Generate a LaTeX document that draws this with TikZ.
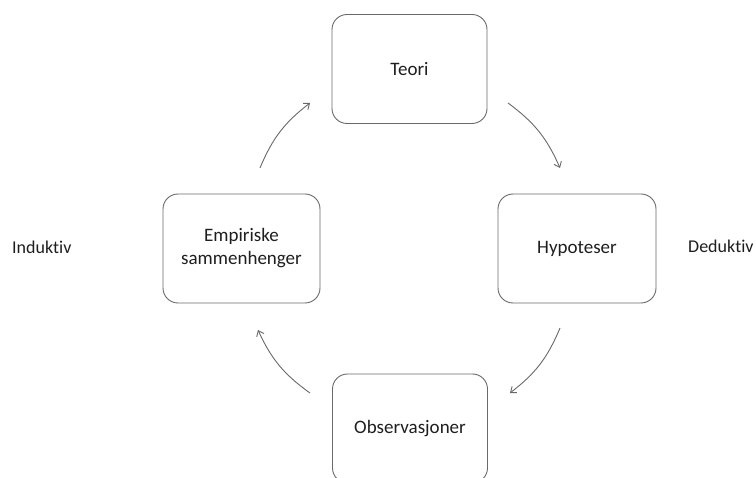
\documentclass[tikz,border=0pt]{standalone}
\usepackage{fontspec}
\setmainfont[Ligatures=NoCommon]{Carlito}
\usetikzlibrary{arrows.meta}
\definecolor{boxline}{RGB}{105,105,105}
\definecolor{txt}{RGB}{30,30,30}
\begin{document}
\begin{tikzpicture}[x=1pt,y=-1pt,
  box/.style={draw=boxline,line width=0.9pt,rounded corners=15pt,minimum width=155pt,minimum height=109pt,align=center,text=txt,font=\fontsize{19}{23}\selectfont,inner sep=0pt},
  lbl/.style={text=txt,font=\fontsize{18}{21}\selectfont,inner sep=0pt},
  arr/.style={draw=boxline,line width=0.9pt,-{Straight Barb[length=5pt,width=8pt]},bend left=15}]
\useasboundingbox (0,0) rectangle (756,478);
\clip (0,0) rectangle (756,478);
\fill[white] (0,0) rectangle (756,478);
\node[box] (teori) at (409.5,69) {Teori};
\node[box,minimum width=158pt] (hyp) at (577,248.5) {Hypoteser};
\node[box] (obs) at (410,428.5) {Observasjoner};
\node[box,minimum width=157pt] (emp) at (241.5,248.5) {Empiriske\\sammenhenger};
\node[lbl,anchor=west] (ind) at (12,247) {Induktiv};
\node[lbl,anchor=west] (ded) at (688,246) {Deduktiv};
\coordinate (a1s) at (260,168); \coordinate (a1e) at (310,103);
\coordinate (a2s) at (508,103); \coordinate (a2e) at (560,168);
\coordinate (a3s) at (560,328); \coordinate (a3e) at (510,393);
\coordinate (a4s) at (310,393); \coordinate (a4e) at (258,330);
\draw[arr] (a1s) to (a1e);
\draw[arr] (a2s) to (a2e);
\draw[arr] (a3s) to (a3e);
\draw[arr] (a4s) to (a4e);
\end{tikzpicture}
\end{document}
